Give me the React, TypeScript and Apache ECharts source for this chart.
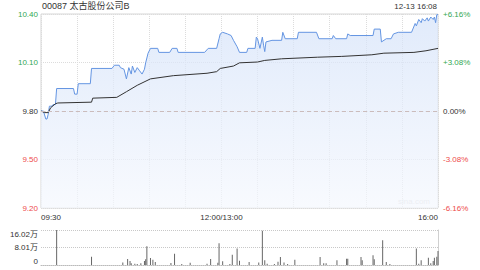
import React, { useEffect, useRef } from "react";
import * as echarts from "echarts";

const TITLE = "00087 太古股份公司B";
const STAMP = "12-13 16:08";
const WATERMARK = "sina.com";

const PREV_CLOSE = 9.8;
const STEP = 0.302; // price per grid step (3.08%)

const X_LABELS: Record<number, string> = { 0: "09:30", 150: "12:00/13:00", 330: "16:00" };

// minutes from 09:30 (trading minutes, lunch removed)
const priceTimes = [
  0, 2, 4, 5, 6, 7, 9, 10, 12, 13, 27, 28, 30, 31, 41, 42, 59, 61, 65, 66, 69, 71, 73, 75, 76, 78, 80, 82, 84, 86,
  87, 89, 91, 97, 98, 107, 109, 113, 114, 136, 139, 146, 148, 149, 151, 155, 158, 160, 163, 165, 171, 172, 178,
  179, 180, 182, 184, 185, 186, 187, 192, 200, 201, 203, 213, 214, 229, 231, 242, 243, 245, 254, 255, 257, 276,
  277, 282, 283, 287, 291, 293, 297, 308, 311, 312, 314, 316, 317, 319, 321, 322, 324, 326, 327, 328, 329, 330,
];
const priceValues = [
  9.8, 9.8, 9.75, 9.75, 9.78, 9.83, 9.83, 9.84, 9.84, 9.94, 9.94, 9.905, 9.905, 9.97, 9.97, 10.065, 10.065, 10.085,
  10.085, 10.07, 10.06, 10.0, 10.07, 10.03, 10.08, 10.04, 10.07, 10.05, 10.03, 10.06, 10.1, 10.16, 10.19, 10.19,
  10.165, 10.165, 10.19, 10.19, 10.165, 10.165, 10.19, 10.19, 10.25, 10.28, 10.29, 10.28, 10.27, 10.24, 10.2,
  10.165, 10.165, 10.19, 10.19, 10.26, 10.25, 10.19, 10.26, 10.21, 10.17, 10.23, 10.24, 10.24, 10.29, 10.25, 10.25,
  10.29, 10.29, 10.25, 10.25, 10.27, 10.25, 10.25, 10.28, 10.27, 10.27, 10.31, 10.31, 10.23, 10.25, 10.25, 10.28,
  10.29, 10.29, 10.345, 10.33, 10.37, 10.35, 10.375, 10.36, 10.38, 10.36, 10.385, 10.37, 10.385, 10.35, 10.4, 10.4,
];

const avgTimes = [
  0, 3, 6, 8, 12, 14, 42, 43, 63, 71, 80, 91, 110, 138, 146, 149, 160, 165, 180, 186, 200, 230, 250, 275, 285, 310,
  320, 330,
];
const avgValues = [
  9.8, 9.79, 9.79, 9.82, 9.845, 9.85, 9.855, 9.88, 9.885, 9.92, 9.96, 10.0, 10.02, 10.035, 10.045, 10.065, 10.08,
  10.1, 10.105, 10.115, 10.125, 10.135, 10.14, 10.15, 10.16, 10.165, 10.175, 10.19,
];

const volTimes = [
  13, 42, 68, 72, 74, 75, 78, 80, 83, 86, 87, 88, 91, 93, 95, 108, 111, 117, 124, 138, 141, 147, 148, 151, 157, 159,
  163, 165, 173, 181, 184, 186, 188, 194, 197, 199, 202, 205, 211, 232, 235, 237, 246, 254, 255, 266, 267, 276, 277,
  284, 287, 290, 312, 314, 316, 322, 324, 326, 327, 329, 330,
];
const volValues = [
  160200, 38000, 12000, 27000, 18000, 8000, 6000, 5000, 8000, 18000, 26000, 86000, 32000, 24000, 14000, 9000, 51000,
  5000, 10000, 6000, 27000, 10000, 99000, 17000, 5000, 47000, 75000, 19000, 14000, 12000, 157000, 22000, 6000, 5000,
  15000, 37000, 12000, 5000, 24000, 37000, 8000, 8000, 22000, 29000, 29000, 37000, 22000, 45000, 26000, 113000,
  14000, 5000, 75000, 6000, 22000, 33000, 8000, 18000, 33000, 38000, 64000,
];

const VOL_MAX = 160200;

const GREEN = "#33a853";
const RED = "#ee4b4b";
const FONT = '"Liberation Sans", Arial, "Noto Sans CJK SC", sans-serif';

const toUnit = (p: number) => (p - PREV_CLOSE) / STEP;

export default function App() {
  const ref = useRef<HTMLDivElement>(null);
  useEffect(() => {
    if (!ref.current) return;
    const chart = echarts.init(ref.current, undefined, { renderer: "svg" });
    const signColor = (v: number) => (v > 0.0001 ? GREEN : v < -0.0001 ? RED : "#333");
    chart.setOption({
      animation: false,
      textStyle: { fontFamily: FONT },
      grid: [
        { left: 41, right: 42, top: 14, height: 194, show: true, borderColor: "#d6d6d6", borderWidth: 1, outerBoundsMode: "none" },
        { left: 41, right: 42, top: 230, height: 35, outerBoundsMode: "none" },
      ],
      graphic: [
        { type: "text", left: 42, top: 1, style: { text: TITLE, fontSize: 9, fill: "#333", fontFamily: FONT } },
        { type: "text", right: 43, top: 2, style: { text: STAMP, fontSize: 8, fill: "#333", fontFamily: FONT } },
        { type: "text", right: 50, top: 197, style: { text: WATERMARK, fontSize: 8, fill: "#d8d8d8", fontFamily: FONT } },
      ],
      xAxis: [
        {
          type: "value",
          gridIndex: 0,
          min: 0,
          max: 330,
          interval: 30,
          axisLine: { show: false },
          axisTick: { show: false },
          splitLine: { show: true, lineStyle: { color: "#dcdcdc", type: "dotted", width: 1 } },
          axisLabel: {
            fontSize: 8,
            color: "#333",
            margin: 5,
            showMinLabel: true,
            showMaxLabel: true,
            alignMinLabel: "left",
            alignMaxLabel: "right",
            formatter: (v: number) => X_LABELS[Math.round(v)] ?? "",
          },
        },
        {
          type: "value",
          gridIndex: 1,
          min: 0,
          max: 330,
          interval: 30,
          axisLine: { show: true, lineStyle: { color: "#bbb", type: "dotted" } },
          axisTick: { show: false },
          axisLabel: { show: false },
          splitLine: { show: false },
        },
      ],
      yAxis: [
        {
          type: "value",
          gridIndex: 0,
          position: "left",
          min: -2,
          max: 2,
          interval: 1,
          axisLine: { show: false },
          axisTick: { show: false },
          splitLine: { show: true, lineStyle: { color: "#dcdcdc", type: "dotted" } },
          axisLabel: {
            fontSize: 8,
            margin: 3,
            color: (v: any) => signColor(Number(v)),
            formatter: (v: number) => (PREV_CLOSE + v * STEP).toFixed(2),
          },
        },
        {
          type: "value",
          gridIndex: 0,
          position: "right",
          min: -2,
          max: 2,
          interval: 1,
          axisLine: { show: false },
          axisTick: { show: false },
          splitLine: { show: false },
          axisLabel: {
            fontSize: 8,
            margin: 5,
            color: (v: any) => signColor(Number(v)),
            formatter: (v: number) => {
              const pct = ((v * STEP) / PREV_CLOSE) * 100;
              return (v > 0 ? "+" : "") + pct.toFixed(2) + "%";
            },
          },
        },
        {
          type: "value",
          gridIndex: 1,
          position: "left",
          min: 0,
          max: VOL_MAX,
          interval: VOL_MAX / 2,
          axisLine: { show: false },
          axisTick: { show: false },
          splitLine: { show: true, lineStyle: { color: "#c8c8c8", type: "dotted" } },
          axisLabel: {
            fontSize: 8,
            margin: 3,
            color: "#333",
            verticalAlignMinLabel: "bottom",
            verticalAlignMaxLabel: "top",
            formatter: (v: number) => (v === 0 ? "0" : (v / 10000).toFixed(2) + "万"),
          },
        },
        {
          type: "value",
          gridIndex: 1,
          position: "right",
          min: 0,
          max: VOL_MAX,
          axisLine: { show: true, lineStyle: { color: "#d0d0d0" } },
          axisTick: { show: false },
          axisLabel: { show: false },
          splitLine: { show: false },
        },
      ],
      series: [
        {
          type: "line",
          xAxisIndex: 0,
          yAxisIndex: 0,
          data: priceTimes.map((t, i) => [t, toUnit(priceValues[i])]),
          showSymbol: false,
          lineStyle: { color: "#6495e2", width: 1 },
          areaStyle: {
            origin: "start",
            color: new echarts.graphic.LinearGradient(0, 0, 0, 1, [
              { offset: 0, color: "#d4e2f9" },
              { offset: 1, color: "#f5f8fe" },
            ]),
          },
          markLine: {
            silent: true,
            symbol: ["none", "none"],
            label: { show: false },
            lineStyle: { color: "#cbbcbc", type: [4, 3], width: 1 },
            data: [{ yAxis: 0 }],
          },
          z: 2,
        },
        {
          type: "line",
          xAxisIndex: 0,
          yAxisIndex: 0,
          data: avgTimes.map((t, i) => [t, toUnit(avgValues[i])]),
          showSymbol: false,
          lineStyle: { color: "#333", width: 1 },
          z: 3,
        },
        {
          type: "bar",
          xAxisIndex: 1,
          yAxisIndex: 2,
          barWidth: 1,
          data: volTimes.map((t, i) => [t, volValues[i]]),
          itemStyle: { color: "#666" },
        },
      ],
    });
    return () => chart.dispose();
  }, []);
  return <div ref={ref} style={{ position: "absolute", left: 0, top: 0, width: 480, height: 270 }} />;
}
